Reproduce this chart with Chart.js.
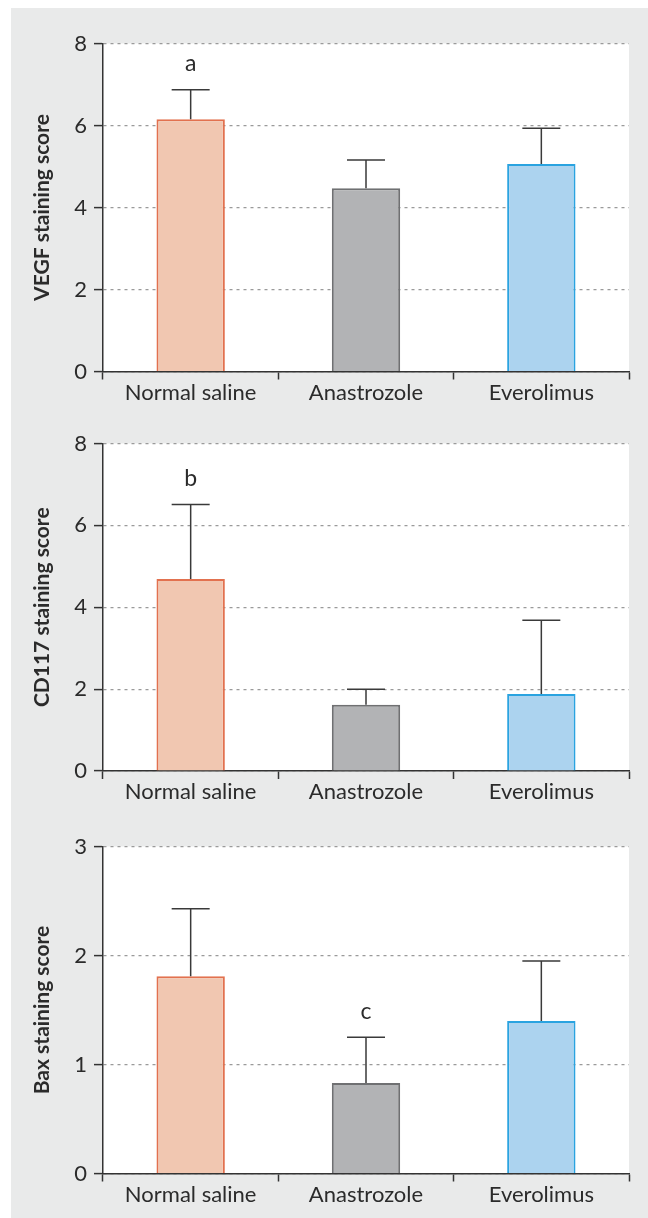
<!DOCTYPE html>
<html>
<head>
<meta charset="utf-8">
<script src="https://cdn.jsdelivr.net/npm/chart.js@4/dist/chart.umd.min.js"></script>
<style>
  html, body { margin: 0; padding: 0; background: #ffffff; }
  body { width: 648px; height: 1218px; position: relative; overflow: hidden; }
  #panel { position: absolute; left: 11px; top: 8px; right: 0; bottom: 0; background: #e9eaea; }
  canvas { position: absolute; left: 0; }
</style>
</head>
<body>
<div id="panel"></div>
<canvas id="c1" width="648" height="424" style="top:8px"></canvas>
<canvas id="c2" width="648" height="424" style="top:408px"></canvas>
<canvas id="c3" width="648" height="424" style="top:811px"></canvas>
<script>
// groups on the x axis
const categories = ['Normal saline', 'Anastrozole', 'Everolimus'];

// VEGF panel
const vegfMean = [6.15, 4.47, 5.06];
const vegfSd = [0.72, 0.69, 0.87];
const vegfMarks = ['a', '', ''];

// CD117 panel
const cd117Mean = [4.69, 1.62, 1.88];
const cd117Sd = [1.82, 0.38, 1.80];
const cd117Marks = ['b', '', ''];

// Bax panel
const baxMean = [1.81, 0.83, 1.40];
const baxSd = [0.62, 0.42, 0.55];
const baxMarks = ['', 'c', ''];

const fills = ['#f1c7b1', '#b2b3b5', '#acd3ef'];
const borders = ['#e2714f', '#6f7072', '#2aa3e0'];
const FONT = 'Lato, "Open Sans", sans-serif';
const INK = '#2b2b2b';

// white plot background
const plotBackground = {
  id: 'plotBackground',
  beforeDraw(chart) {
    const { ctx, chartArea: a } = chart;
    ctx.save();
    ctx.fillStyle = '#ffffff';
    ctx.fillRect(a.left, a.top, a.right - a.left, a.bottom - a.top);
    ctx.restore();
  }
};

// SD whiskers (upper only) and significance letters
const errorBars = {
  id: 'errorBars',
  afterDatasetsDraw(chart, args, opts) {
    const ctx = chart.ctx;
    const y = chart.scales.y;
    const meta = chart.getDatasetMeta(0);
    const means = chart.data.datasets[0].data;
    ctx.save();
    ctx.strokeStyle = '#3a3a3a';
    ctx.lineWidth = 1.5;
    meta.data.forEach((bar, i) => {
      const top = y.getPixelForValue(means[i] + opts.sd[i]);
      const base = y.getPixelForValue(means[i]);
      ctx.beginPath();
      ctx.moveTo(bar.x, base);
      ctx.lineTo(bar.x, top);
      ctx.moveTo(bar.x - 19, top);
      ctx.lineTo(bar.x + 19, top);
      ctx.stroke();
      if (opts.marks[i]) {
        ctx.fillStyle = INK;
        ctx.font = '23px ' + FONT;
        ctx.textAlign = 'center';
        ctx.textBaseline = 'middle';
        ctx.fillText(opts.marks[i], bar.x, top - 26);
      }
    });
    ctx.restore();
  }
};

function makeChart(id, means, sd, marks, yMax, step, title, plotH) {
  const padTop = 35.5;
  return new Chart(document.getElementById(id), {
    type: 'bar',
    data: {
      labels: categories,
      datasets: [{
        data: means,
        backgroundColor: fills,
        borderColor: borders,
        borderWidth: 2,
        categoryPercentage: 1,
        barPercentage: 0.39
      }]
    },
    options: {
      responsive: false,
      animation: false,
      devicePixelRatio: 1,
      layout: { padding: { top: padTop, left: 11, right: 19, bottom: 424 - padTop - plotH - 60 } },
      plugins: {
        legend: { display: false },
        tooltip: { enabled: false },
        errorBars: { sd: sd, marks: marks }
      },
      scales: {
        x: {
          offset: true,
          grid: { offset: true, drawOnChartArea: false, tickLength: 8, tickColor: '#333', tickWidth: 1.5 },
          border: { color: '#333', width: 1.5 },
          ticks: { color: INK, padding: 0, font: { family: FONT, size: 22 } },
          afterFit(scale) { scale.height = 60; }
        },
        y: {
          min: 0,
          max: yMax,
          ticks: { stepSize: step, color: INK, padding: 7, font: { family: FONT, size: 22 } },
          grid: {
            color: '#9a9a9a', lineWidth: 1.2,
            tickLength: 9, tickColor: '#333', tickWidth: 1.5, tickBorderDash: []
          },
          border: { color: '#333', width: 1.5, dash: [3, 4] },
          title: {
            display: true, text: title, color: INK,
            padding: { top: 19, bottom: 0 },
            font: { family: FONT, size: 21, weight: 'bold' }
          },
          afterFit(scale) { scale.width = 92; }
        }
      }
    },
    plugins: [plotBackground, errorBars]
  });
}

makeChart('c1', vegfMean, vegfSd, vegfMarks, 8, 2, 'VEGF staining score', 328);
makeChart('c2', cd117Mean, cd117Sd, cd117Marks, 8, 2, 'CD117 staining score', 327.5);
makeChart('c3', baxMean, baxSd, baxMarks, 3, 1, 'Bax staining score', 327);
</script>
</body>
</html>
